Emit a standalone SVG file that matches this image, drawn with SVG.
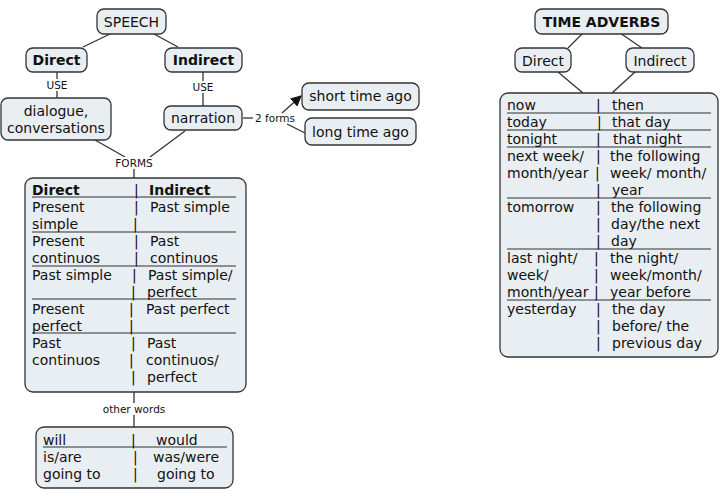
<svg xmlns="http://www.w3.org/2000/svg" width="720" height="500" viewBox="0 0 720 500">
<defs>
<style>
.n{fill:#e9eef2;stroke:#333;stroke-width:1.3}
.t{font-family:"DejaVu Sans",Verdana,sans-serif;font-size:14px;fill:#111}
.b{font-weight:bold}
.m{text-anchor:middle}
.l{font-family:"DejaVu Sans",Verdana,sans-serif;font-size:10.5px;fill:#111;text-anchor:middle}
.c{stroke:#333;stroke-width:1.3;fill:none}
.r{stroke:#333;stroke-width:1.2}
.lb{fill:#fff}
</style>
<marker id="ah" viewBox="0 0 10 10" refX="9" refY="5" markerWidth="11" markerHeight="11" orient="auto" markerUnits="userSpaceOnUse">
<path d="M0,0 L10,5 L0,10 z" fill="#111"/>
</marker>
</defs>
<rect width="720" height="500" fill="#fff"/>

<g id="connectors">
<line class="c" x1="83" y1="47" x2="110" y2="34"/>
<line class="c" x1="154" y1="34" x2="178" y2="47"/>
<line class="c" x1="57" y1="72" x2="57" y2="98"/>
<line class="c" x1="203" y1="72" x2="203" y2="106"/>
<line class="c" x1="95" y1="140" x2="125" y2="157"/>
<line class="c" x1="185" y1="131" x2="150" y2="157"/>
<line class="c" x1="134" y1="168" x2="134" y2="178"/>
<line class="c" x1="243" y1="118" x2="253" y2="118"/>
<line class="c" x1="282" y1="113" x2="301" y2="96" marker-end="url(#ah)"/>
<line class="c" x1="287" y1="124" x2="305" y2="133"/>
<line class="c" x1="134" y1="392" x2="134" y2="427"/>
<line class="c" x1="583" y1="33" x2="568" y2="48"/>
<line class="c" x1="620" y1="33" x2="642" y2="48"/>
<line class="c" x1="558" y1="72" x2="583" y2="93"/>
<line class="c" x1="635" y1="72" x2="612" y2="93"/>
<rect class="lb" x="44" y="79" width="26" height="12"/>
<text class="l" x="57" y="89">USE</text>
<rect class="lb" x="190" y="81" width="26" height="12"/>
<text class="l" x="203" y="91">USE</text>
<rect class="lb" x="115" y="157" width="38" height="12"/>
<text class="l" x="134" y="167">FORMS</text>
<text class="l" x="275" y="122">2 forms</text>
<rect class="lb" x="102" y="403" width="64" height="12"/>
<text class="l" x="134" y="413">other words</text>
</g>

<g id="speech">
<rect class="n" x="97" y="9" width="69" height="25" rx="7"/>
<text class="t m" x="131.5" y="26.5">SPEECH</text>
</g>
<g id="direct">
<rect class="n" x="26" y="48" width="61" height="24" rx="7"/>
<text class="t b m" x="56.5" y="65">Direct</text>
</g>
<g id="indirect">
<rect class="n" x="165" y="48" width="77" height="24" rx="7"/>
<text class="t b m" x="203.5" y="65">Indirect</text>
</g>
<g id="dialogue">
<rect class="n" x="1" y="98" width="110" height="42" rx="7"/>
<text class="t m" x="56" y="116">dialogue,</text>
<text class="t m" x="56" y="133">conversations</text>
</g>
<g id="narration">
<rect class="n" x="164" y="106" width="78" height="24" rx="7"/>
<text class="t m" x="203" y="123">narration</text>
</g>
<g id="short">
<rect class="n" x="302" y="83" width="117" height="27" rx="7"/>
<text class="t m" x="360.5" y="101">short time ago</text>
</g>
<g id="long">
<rect class="n" x="305" y="118" width="111" height="27" rx="7"/>
<text class="t m" x="360.5" y="137">long time ago</text>
</g>

<g id="tenses">
<rect class="n" x="25" y="178" width="221" height="214" rx="8"/>
<g class="r">
<line x1="32" y1="197" x2="236" y2="197"/>
<line x1="32" y1="232" x2="236" y2="232"/>
<line x1="32" y1="266" x2="236" y2="266"/>
<line x1="32" y1="299" x2="236" y2="299"/>
<line x1="32" y1="333" x2="236" y2="333"/>
</g>
<text class="t b" x="32" y="195">Direct</text><text class="t" x="134" y="195">|</text><text class="t b" x="149" y="195">Indirect</text>
<text class="t" x="32" y="212">Present</text><text class="t" x="134" y="212">|</text><text class="t" x="150" y="212">Past simple</text>
<text class="t" x="32" y="229">simple</text><text class="t" x="133" y="229">|</text>
<text class="t" x="32" y="246">Present</text><text class="t" x="134" y="246">|</text><text class="t" x="150" y="246">Past</text>
<text class="t" x="32" y="263">continuos</text><text class="t" x="134" y="263">|</text><text class="t" x="150" y="263">continuos</text>
<text class="t" x="32" y="280">Past simple</text><text class="t" x="132" y="280">|</text><text class="t" x="148" y="280">Past simple/</text>
<text class="t" x="131" y="297">|</text><text class="t" x="147" y="297">perfect</text>
<text class="t" x="32" y="314">Present</text><text class="t" x="129" y="314">|</text><text class="t" x="146" y="314">Past perfect</text>
<text class="t" x="32" y="331">perfect</text><text class="t" x="129" y="331">|</text>
<text class="t" x="32" y="348">Past</text><text class="t" x="131" y="348">|</text><text class="t" x="147" y="348">Past</text>
<text class="t" x="32" y="365">continuos</text><text class="t" x="129" y="365">|</text><text class="t" x="146" y="365">continuos/</text>
<text class="t" x="131" y="382">|</text><text class="t" x="147" y="382">perfect</text>
</g>

<g id="other">
<rect class="n" x="36" y="427" width="197" height="61" rx="8"/>
<line class="r" x1="43" y1="447" x2="227" y2="447"/>
<text class="t" x="43" y="445">will</text><text class="t" x="131" y="445">|</text><text class="t" x="156" y="445">would</text>
<text class="t" x="43" y="462">is/are</text><text class="t" x="133" y="462">|</text><text class="t" x="153" y="462">was/were</text>
<text class="t" x="43" y="479">going to</text><text class="t" x="133" y="479">|</text><text class="t" x="157" y="479">going to</text>
</g>

<g id="time-adverbs">
<rect class="n" x="535" y="9" width="133" height="25" rx="7"/>
<text class="t b m" x="601.5" y="26.5">TIME ADVERBS</text>
</g>
<g id="direct2">
<rect class="n" x="515" y="48" width="56" height="24" rx="7"/>
<text class="t m" x="543" y="66">Direct</text>
</g>
<g id="indirect2">
<rect class="n" x="626" y="48" width="68" height="24" rx="7"/>
<text class="t m" x="660" y="66">Indirect</text>
</g>

<g id="adverbs">
<rect class="n" x="500" y="93" width="218" height="264" rx="8"/>
<g class="r">
<line x1="507" y1="113" x2="711" y2="113"/>
<line x1="507" y1="130" x2="711" y2="130"/>
<line x1="507" y1="147" x2="711" y2="147"/>
<line x1="507" y1="198" x2="711" y2="198"/>
<line x1="507" y1="249" x2="711" y2="249"/>
<line x1="507" y1="300" x2="711" y2="300"/>
</g>
<text class="t" x="507" y="110">now</text><text class="t" x="596" y="110">|</text><text class="t" x="612" y="110">then</text>
<text class="t" x="507" y="127">today</text><text class="t" x="597" y="127">|</text><text class="t" x="612" y="127">that day</text>
<text class="t" x="507" y="144">tonight</text><text class="t" x="596" y="144">|</text><text class="t" x="613" y="144">that night</text>
<text class="t" x="507" y="161">next week/</text><text class="t" x="596" y="161">|</text><text class="t" x="610" y="161">the following</text>
<text class="t" x="507" y="178">month/year</text><text class="t" x="595" y="178">|</text><text class="t" x="610" y="178">week/ month/</text>
<text class="t" x="596" y="195">|</text><text class="t" x="612" y="195">year</text>
<text class="t" x="507" y="212">tomorrow</text><text class="t" x="596" y="212">|</text><text class="t" x="611" y="212">the following</text>
<text class="t" x="596" y="229">|</text><text class="t" x="611" y="229">day/the next</text>
<text class="t" x="596" y="246">|</text><text class="t" x="611" y="246">day</text>
<text class="t" x="507" y="263">last night/</text><text class="t" x="594" y="263">|</text><text class="t" x="610" y="263">the night/</text>
<text class="t" x="507" y="280">week/</text><text class="t" x="594" y="280">|</text><text class="t" x="610" y="280">week/month/</text>
<text class="t" x="507" y="297">month/year</text><text class="t" x="594" y="297">|</text><text class="t" x="610" y="297">year before</text>
<text class="t" x="507" y="314">yesterday</text><text class="t" x="596" y="314">|</text><text class="t" x="612" y="314">the day</text>
<text class="t" x="596" y="331">|</text><text class="t" x="612" y="331">before/ the</text>
<text class="t" x="596" y="348">|</text><text class="t" x="612" y="348">previous day</text>
</g>
</svg>
